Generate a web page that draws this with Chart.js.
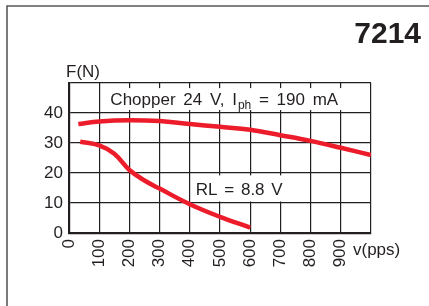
<!DOCTYPE html>
<html>
<head>
<meta charset="utf-8">
<script src="https://cdn.jsdelivr.net/npm/chart.js@4/dist/chart.umd.min.js"></script>
<style>
  html, body { margin: 0; padding: 0; background: #fff; }
  #wrap { width: 429px; height: 306px; position: relative; }
</style>
</head>
<body>
<div id="wrap"><canvas id="chart"></canvas></div>
<script>
// chopper 24 V curve
const chopperV = [31, 100, 200, 300, 400, 500, 600, 700, 800, 900, 1000];
const chopperF = [36.3, 37.2, 37.6, 37.3, 36.3, 35.4, 34.4, 32.6, 30.7, 28.4, 26.0];
// RL = 8.8 V curve
const rlV = [37, 100, 150, 200, 250, 300, 400, 500, 600];
const rlF = [30.4, 29.2, 26.4, 21.0, 17.5, 14.8, 9.6, 5.4, 1.8];
// tick labels
const xTicks = [0, 100, 200, 300, 400, 500, 600, 700, 800, 900];
const yTicks = [0, 10, 20, 30, 40];

const ink = '#231f20';
const red = '#ec1c2a';
const font = '"Liberation Sans", Arial, Helvetica, sans-serif';

// boxes, texts and frame
const decor = {
    id: 'decor',
    beforeDatasetsDraw(chart) {
        const c = chart.ctx, x = chart.scales.x, y = chart.scales.y;
        c.save();
        c.fillStyle = '#fff';
        // Chopper label box
        let l = x.getPixelForValue(120), r = x.getPixelForValue(988);
        let t = y.getPixelForValue(48.3), b = y.getPixelForValue(41);
        c.fillRect(l, t, r - l, b - t);
        // RL label box
        l = x.getPixelForValue(413); r = x.getPixelForValue(730);
        t = y.getPixelForValue(19.2); b = y.getPixelForValue(10.5);
        c.fillRect(l, t, r - l, b - t);
        c.restore();
    },
    afterDatasetsDraw(chart) {
        const c = chart.ctx, x = chart.scales.x, y = chart.scales.y;
        c.save();
        c.fillStyle = ink;
        c.textBaseline = 'alphabetic';
        c.textAlign = 'left';
        c.font = '17px ' + font;
        c.wordSpacing = '3px';
        // Chopper 24 V, Iph = 190 mA
        let px = x.getPixelForValue(137);
        const base = 105;
        let s = 'Chopper 24 V, I';
        c.fillText(s, px, base);
        px += c.measureText(s).width + 1;
        c.font = '12px ' + font;
        c.fillText('ph', px, base + 4);
        px += c.measureText('ph').width;
        c.font = '17px ' + font;
        c.fillText(' = 190 mA', px, base);
        // RL = 8.8 V
        c.wordSpacing = '2px';
        c.fillText('RL = 8.8 V', x.getPixelForValue(420), 195);
        c.wordSpacing = '0px';
        // axis titles
        c.fillText('F(N)', 66, 77);
        c.fillText('v(pps)', 353, 255);
        // part number
        c.font = 'bold 30px ' + font;
        c.textAlign = 'right';
        c.fillText('7214', 421, 43);
        // frame
        c.strokeStyle = '#58595b';
        c.lineWidth = 1.6;
        c.beginPath();
        c.moveTo(7, 306);
        c.lineTo(7, 6);
        c.lineTo(429, 6);
        c.stroke();
        c.restore();
    }
};

new Chart(document.getElementById('chart'), {
    type: 'line',
    data: {
        datasets: [{
            label: 'Chopper 24 V',
            data: chopperV.map((v, i) => ({ x: v, y: chopperF[i] })),
            borderColor: red,
            borderWidth: 4.5,
            pointRadius: 0,
            tension: 0.4,
            fill: false
        }, {
            label: 'RL = 8.8 V',
            data: rlV.map((v, i) => ({ x: v, y: rlF[i] })),
            borderColor: red,
            borderWidth: 4.5,
            pointRadius: 0,
            tension: 0.4,
            fill: false
        }]
    },
    options: {
        responsive: true,
        maintainAspectRatio: false,
        animation: false,
        events: [],
        layout: { padding: { left: 0, top: 83, right: 58, bottom: 0 } },
        plugins: {
            legend: { display: false },
            tooltip: { enabled: false }
        },
        scales: {
            x: {
                type: 'linear',
                min: 0,
                max: 1000,
                afterFit: (s) => { s.height = 73; },
                grid: { color: ink, lineWidth: 1.2, drawTicks: false },
                border: { display: true, color: ink, width: 2.2 },
                ticks: {
                    stepSize: 100,
                    autoSkip: false,
                    minRotation: 90,
                    maxRotation: 90,
                    padding: 6,
                    color: ink,
                    font: { family: font, size: 17 },
                    callback: (v) => xTicks.includes(v) ? String(v) : ''
                }
            },
            y: {
                min: 0,
                max: 50,
                afterFit: (s) => { s.width = 69; },
                grid: { color: ink, lineWidth: 1.2, drawTicks: false },
                border: { display: true, color: ink, width: 2.2 },
                ticks: {
                    stepSize: 10,
                    padding: 6,
                    color: ink,
                    font: { family: font, size: 17 },
                    callback: (v) => yTicks.includes(v) ? String(v) : ''
                }
            }
        }
    },
    plugins: [decor]
});
</script>
</body>
</html>
